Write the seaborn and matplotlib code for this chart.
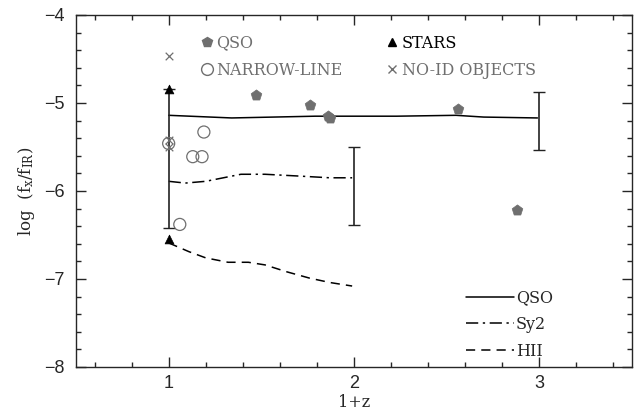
import numpy as np
import pandas as pd
import seaborn as sns
import matplotlib.pyplot as plt
from matplotlib.lines import Line2D
from matplotlib.ticker import MultipleLocator

# Daten
qso_x = [1.47, 1.76, 1.86, 1.87, 2.56, 2.88]
qso_y = [-4.91, -5.02, -5.15, -5.17, -5.07, -6.22]
nl_x = [1.19, 1.13, 1.18, 1.06, 1.00]
nl_y = [-5.33, -5.61, -5.61, -6.38, -5.46]
star_x = [1.0, 1.0]
star_y = [-4.84, -6.55]
noid_x = [1.0, 1.0, 1.0]
noid_y = [-4.47, -5.42, -5.50]

# Modellkurven
qso_line_x = [1.0, 1.34, 1.79, 1.96, 2.23, 2.55, 2.70, 2.99]
qso_line_y = [-5.14, -5.17, -5.15, -5.15, -5.15, -5.14, -5.16, -5.17]
sy2_line_x = [1.0, 1.09, 1.20, 1.39, 1.52, 1.70, 1.87, 1.99]
sy2_line_y = [-5.89, -5.91, -5.89, -5.81, -5.81, -5.83, -5.85, -5.85]
hii_line_x = [1.0, 1.11, 1.20, 1.32, 1.43, 1.52, 1.64, 1.76, 1.87, 1.99]
hii_line_y = [-6.59, -6.69, -6.76, -6.81, -6.81, -6.84, -6.92, -6.99, -7.04, -7.08]

# Fehlerbalken
err_x = [1.0, 2.0, 3.0]
err_top = [-4.84, -5.50, -4.875]
err_bot = [-6.42, -6.39, -5.53]

sns.set_style('ticks')
plt.rcParams['font.family'] = ['DejaVu Serif']
plt.rcParams['mathtext.fontset'] = 'dejavuserif'

fig = plt.figure(figsize=(6.36, 4.13), dpi=100)
ax = fig.add_axes([0.1195, 0.1114, 0.8742, 0.8523])

lines = pd.concat([
    pd.DataFrame({'x': qso_line_x, 'y': qso_line_y, 'model': 'QSO'}),
    pd.DataFrame({'x': sy2_line_x, 'y': sy2_line_y, 'model': 'Sy2'}),
    pd.DataFrame({'x': hii_line_x, 'y': hii_line_y, 'model': 'HII'}),
])
dash_map = {'QSO': '', 'Sy2': (8, 3, 1.5, 3), 'HII': (6, 4)}
sns.lineplot(data=lines, x='x', y='y', hue='model', style='model',
             palette={'QSO': 'black', 'Sy2': 'black', 'HII': 'black'},
             dashes=dash_map, sort=False, estimator=None, linewidth=1.1,
             legend=False, ax=ax)

# Fehlerbalken
ey = np.array(err_top)
eb = np.array(err_bot)
mid = (ey + eb) / 2
ax.errorbar(err_x, mid, yerr=[mid - eb, ey - mid], fmt='none', ecolor='#222222',
            elinewidth=1.2, capsize=4, capthick=1.0, zorder=3)

grey = '#6f6f6f'
sns.scatterplot(x=qso_x, y=qso_y, marker='p', s=65, color=grey,
                edgecolor=grey, linewidth=0.5, ax=ax, zorder=4)
sns.scatterplot(x=nl_x, y=nl_y, marker='o', s=75, facecolor='none',
                edgecolor=grey, linewidth=0.9, ax=ax, zorder=4)
sns.scatterplot(x=star_x, y=star_y, marker='^', s=40, color='black',
                edgecolor='black', ax=ax, zorder=5)
sns.scatterplot(x=noid_x, y=noid_y, marker='x', s=30, color=grey,
                linewidth=0.9, ax=ax, zorder=5)

# Achsen
ax.set_xlim(0.5, 3.5)
ax.set_ylim(-8, -4)
ax.xaxis.set_major_locator(MultipleLocator(1))
ax.xaxis.set_minor_locator(MultipleLocator(0.2))
ax.yaxis.set_major_locator(MultipleLocator(1))
ax.yaxis.set_minor_locator(MultipleLocator(0.2))
ax.tick_params(which='both', direction='in', top=True, right=True, width=1.0)
ax.tick_params(which='major', length=7, labelsize=13)
ax.tick_params(axis='y', which='major', pad=8)
ax.tick_params(axis='x', which='major', pad=6)
ax.tick_params(which='minor', length=3.5)
for lab in ax.get_xticklabels() + ax.get_yticklabels():
    lab.set_family(['Liberation Sans', 'DejaVu Sans'])
for sp in ax.spines.values():
    sp.set_linewidth(1.0)
ax.set_xlabel('1+z', fontsize=11.5, labelpad=1)
ax.set_ylabel(r'log  $(\mathrm{f_x/f_{IR}})$', fontsize=12, labelpad=5)

# Legende oben
h1 = [
    Line2D([], [], ls='none', marker='p', ms=7.5, color=grey, mec=grey),
    Line2D([], [], ls='none', marker='o', ms=8.5, mfc='none', mec=grey),
    Line2D([], [], ls='none', marker='^', ms=6, color='black'),
    Line2D([], [], ls='none', marker='x', ms=5.5, color=grey),
]
leg1 = ax.legend(h1, ['QSO', 'NARROW-LINE', 'STARS', 'NO-ID OBJECTS'], ncol=2,
                 frameon=False, fontsize=11.5, handlelength=0.6, handletextpad=0.3,
                 columnspacing=2.8, labelspacing=0.62,
                 loc='upper left', bbox_to_anchor=(0.201, 0.985))
for t, c in zip(leg1.get_texts(), [grey, grey, 'black', grey]):
    t.set_color(c)
ax.add_artist(leg1)

# Legende unten rechts
h2 = [
    Line2D([], [], color='black', lw=1.1),
    Line2D([], [], color='black', lw=1.1, dashes=(8, 3, 1.5, 3)),
    Line2D([], [], color='black', lw=1.1, dashes=(6, 4)),
]
ax.legend(h2, ['QSO', 'Sy2', 'HII'], frameon=False, fontsize=11.5,
          handlelength=3.0, handletextpad=0.1, labelspacing=0.6,
          loc='lower left', bbox_to_anchor=(0.676, -0.02))

plt.savefig('out.png', dpi=100)
